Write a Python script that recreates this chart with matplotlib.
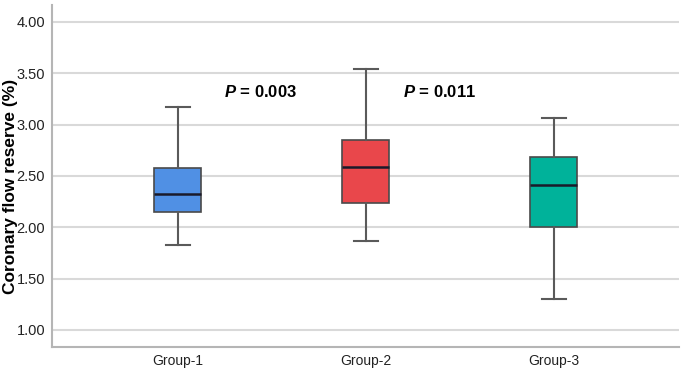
import matplotlib
matplotlib.use('Agg')
import matplotlib.pyplot as plt

plt.rcParams['font.family'] = ['Liberation Sans', 'DejaVu Sans']
plt.rcParams['mathtext.fontset'] = 'custom'
plt.rcParams['mathtext.it'] = 'Liberation Sans:italic:bold'

# data
groups   = ['Group-1', 'Group-2', 'Group-3']
whis_lo  = [1.83, 1.87, 1.30]
q1       = [2.15, 2.24, 2.00]
median   = [2.32, 2.59, 2.41]
q3       = [2.58, 2.85, 2.68]
whis_hi  = [3.17, 3.54, 3.06]
colors   = ['#5090e4', '#e9474b', '#00b29a']
p_labels = ['0.003', '0.011']
p_xpos   = [1.44, 2.39]
p_y      = 3.32

stats = []
for i in range(len(groups)):
    stats.append(dict(whislo=whis_lo[i], q1=q1[i], med=median[i],
                      q3=q3[i], whishi=whis_hi[i], fliers=[]))

fig = plt.figure(figsize=(6.85, 3.73), dpi=100)
ax = fig.add_axes([0.076, 0.070, 0.915, 0.917])

pos = [1, 2, 3]
bp = ax.bxp(stats, positions=pos, widths=0.25, patch_artist=True,
            showfliers=False,
            boxprops=dict(edgecolor='#4a4a4a', linewidth=1.2),
            whiskerprops=dict(color='#5a5a5a', linewidth=1.5),
            capprops=dict(color='#5a5a5a', linewidth=1.5),
            medianprops=dict(color='#1a1a2a', linewidth=1.8),
            capwidths=0.125, zorder=3)
for patch, c in zip(bp['boxes'], colors):
    patch.set_facecolor(c)

for x, lab in zip(p_xpos, p_labels):
    ax.text(x, p_y, r'$P$' + ' = ' + lab, ha='center', va='center',
            fontsize=12, fontweight='bold')

ax.set_xlim(0.33, 3.665)
ax.set_ylim(0.834, 4.166)
ax.set_yticks([1.0, 1.5, 2.0, 2.5, 3.0, 3.5, 4.0])
ax.set_yticklabels(['%.2f' % v for v in ax.get_yticks()], fontsize=10.5, color='#222222')
ax.set_xticks(pos)
ax.set_xticklabels(groups, fontsize=10, color='#222222')
ax.tick_params(length=0, pad=5)

# y label placed by hand so it sits close to the left edge like the original
fig.text(11 / 685, 1 - 186 / 373, 'Coronary flow reserve (%)', rotation=90,
         ha='center', va='center', fontsize=12.5, fontweight='bold')

ax.yaxis.grid(True, color='#d9d9d9', linewidth=1.5, zorder=0)
ax.set_axisbelow(True)
for s in ['top', 'right']:
    ax.spines[s].set_visible(False)
for s in ['left', 'bottom']:
    ax.spines[s].set_color('#b5b5b5')
    ax.spines[s].set_linewidth(1.5)

plt.savefig('out.png', dpi=100)
